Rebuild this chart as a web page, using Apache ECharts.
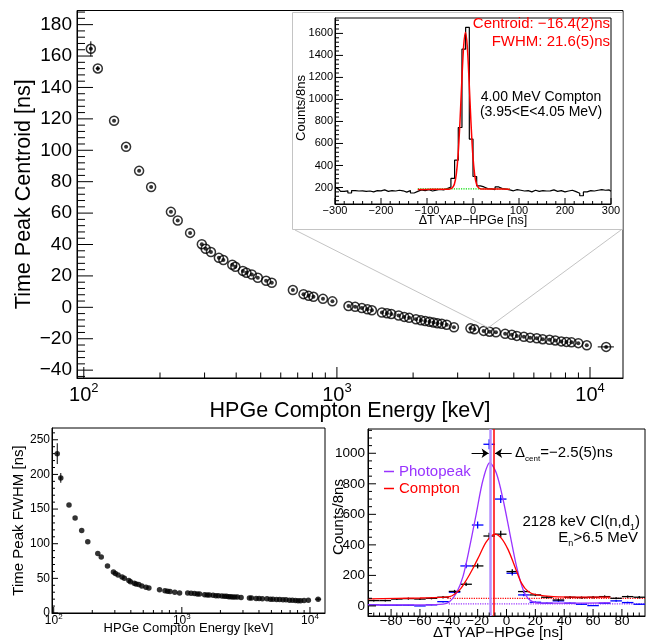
<!DOCTYPE html>
<html>
<head>
<meta charset="utf-8">
<script src="https://cdn.jsdelivr.net/npm/echarts@6/dist/echarts.min.js"></script>
<style>
html, body { margin: 0; padding: 0; background: #fff; }
#chart { width: 646px; height: 643px; }
</style>
</head>
<body>
<div id="chart"></div>
<script>
// HPGe Compton energies [keV], shared by the centroid and FWHM panels
const energies = [106.6, 113.6, 131.7, 146.9, 165.4, 184.5, 220.9, 235, 263, 292.6, 303, 318, 341.7, 356, 386, 397, 425, 439, 461, 487, 525, 553, 670, 738, 773, 808, 881, 960,
  1111, 1181, 1255, 1320, 1375, 1506, 1577, 1640, 1753, 1845, 1930, 2053, 2148, 2233, 2322, 2407, 2496, 2596, 2715, 2900,
  3370, 3494, 3800, 4010, 4250, 4620, 4910, 5140, 5480, 5800, 6160, 6500, 6920, 7290, 7700, 8070, 8450, 8990,
  9710, 11580]
// time peak centroid [ns]
const centroids = [164.6, 152.1, 118.8, 102.2, 86.9, 76.6, 60.8, 55.3, 47.4, 40.2, 37.3, 35.2, 31.5, 30.1, 27.1, 25.8, 23.2, 22.0, 20.9, 18.8, 16.9, 15.6, 11.0, 8.4, 7.3, 6.7, 5.4, 3.8,
  0.8, 0.3, -0.5, -1.3, -1.9, -3.3, -3.8, -4.3, -5.2, -6.1, -6.7, -7.6, -8.3, -8.7, -9.2, -9.7, -10.2, -10.5, -11.1, -12.7,
  -13.4, -14.0, -15.0, -15.5, -15.9, -16.9, -17.5, -18.2, -18.8, -19.3, -19.7, -20.3, -20.7, -21.1, -21.7, -22.0, -22.3, -22.8,
  -24.2, -25.2]
// time peak FWHM [ns]
const fwhms = [230, 195, 156, 137, 119, 103, 86, 81, 68, 59, 57, 55, 52, 50, 47, 45, 43, 42, 41, 39, 37, 36, 33.5, 32, 31.5, 31, 30, 29,
  28.7, 28.5, 28, 27.5, 27.5, 26.5, 26, 26, 25.5, 25, 25, 24.5, 24, 24, 23.5, 23.5, 23, 23, 23, 22.5,
  21.5, 21.5, 21, 21, 20.5, 20.5, 20, 20, 19.5, 19.5, 19, 19, 18.5, 18.5, 18, 17.5, 17.5, 18,
  18.5, 20]
// visible error bars: [E, y, dE, dy]
const centroidErr = [[106.6, 164.6, 1.5, 4.8], [113.6, 152.1, 2, 1.5], [11580, -25.2, 850, 0.6]]
const fwhmErr = [[106.6, 230, 1.5, 15], [113.6, 195, 1.5, 7], [11580, 20, 650, 2]]

// inset: 4.00 MeV Compton time spectrum, 8 ns bins starting at -300
const insetCounts = [200, 185, 165, 170, 150, 172, 168, 170, 165, 168, 160, 172, 170, 178, 165, 172, 168, 175, 170, 158,
  172, 150, 165, 178, 172, 180, 168, 176, 182, 178, 190, 205, 282, 448, 745, 1457, 1655, 640, 300, 215,
  205, 190, 188, 180, 205, 190, 185, 178, 170, 180, 175, 168, 172, 160, 175, 165, 172, 168, 170, 178,
  165, 172, 160, 168, 175, 162, 148, 125, 160, 172, 168, 175, 180, 175, 178, 165]
const insetFitX = [-120, -90, -60, -50.4, -44.4, -40.4, -36.4, -32.4, -28.4, -24.4, -20.4, -16.4, -12.4, -8.4, -4.4, -0.4, 3.6, 7.6, 11.6, 17.6, 50, 80]
const insetFitY = [182, 183, 184, 186, 199, 231, 317, 496, 790, 1158, 1480, 1610, 1480, 1158, 790, 496, 317, 231, 199, 186, 186, 185]
const insetBgX = [-120, 80]
const insetBgY = [188, 186]

// bottom right: 2128 keV Cl(n,d1), 8 ns bins starting at -92
const photoCounts = [7, 5, 5, 5, 0, 7, 28, 90, 262, 530, 1059, 700, 214, 72, 24, 18, 33, 18, 11, 2, 18, 33, 22, 11]
const photoErr = [3, 2, 2, 2, 1, 3, 5, 9, 16, 23, 33, 26, 15, 8, 5, 4, 6, 4, 3, 2, 4, 6, 5, 3]
const comptonCounts = [35, 35, 45, 48, 45, 50, 57, 95, 142, 262, 458, 470, 225, 94, 72, 57, 39, 57, 55, 57, 61, 50, 61, 57]
const comptonErr = [6, 6, 7, 7, 7, 7, 8, 10, 12, 16, 21, 22, 15, 10, 8, 8, 6, 8, 7, 8, 8, 7, 8, 8]
const photoFitX = [-96, -60, -44, -39.5, -34.8, -30.2, -25.5, -20.9, -16.3, -11.6, -7, -2.3, 2.3, 7, 11.6, 16.2, 23.2, 40, 72]
const photoFitY = [6, 7, 12, 28, 83, 192, 388, 607, 825, 938, 869, 694, 476, 257, 105, 39, 18, 18, 22]
const comptonFitX = [-96, -60, -39.5, -32.5, -27.8, -23.2, -18.6, -13.9, -8.1, -3.5, 1.2, 5.8, 10.4, 15, 20.9, 32.5, 72]
const comptonFitY = [46, 52, 61, 105, 170, 247, 334, 421, 470, 443, 367, 257, 149, 94, 72, 61, 57]
const photoCentroid = -11.4
const comptonCentroid = -8.9

// tick labels
const decades = [100, 1000, 10000]
const logMinor = [200, 300, 400, 500, 600, 700, 800, 900, 2000, 3000, 4000, 5000, 6000, 7000, 8000, 9000]
const mainYTicks = [-40, -20, 0, 20, 40, 60, 80, 100, 120, 140, 160, 180]
const insetXTicks = [-300, -200, -100, 0, 100, 200, 300]
const insetYTicks = [200, 400, 600, 800, 1000, 1200, 1400, 1600]
const fwhmYTicks = [0, 50, 100, 150, 200, 250]
const brYTicks = [0, 200, 400, 600, 800, 1000]
const brXTicks = [-80, -60, -40, -20, 0, 20, 40, 60, 80]

// axis ranges
const mainX = [94, 13500], mainY = [-45, 189]
const insetX = [-300, 300], insetY = [50, 1740]
const fwhmX = [97, 13100], fwhmY = [0, 267]
const brX = [-96, 96], brY = [-66, 1159]

const FONT = '"Liberation Sans", Arial, Helvetica, sans-serif'
const PURPLE = '#9933ff'

function range(a, b, step) {
  const out = []
  for (let v = a; v <= b + 1e-9; v += step) out.push(Math.round(v * 1000) / 1000)
  return out
}
function without(list, major) {
  return list.filter(v => major.indexOf(v) < 0)
}
const minus = v => String(v).replace('-', '\u2212')
const pow10 = v => '{b|10}{s|' + Math.round(Math.log10(v)) + '}'
function richPow(size, lh) {
  return {
    b: { fontFamily: FONT, fontSize: size, lineHeight: lh, color: '#000' },
    s: { fontFamily: FONT, fontSize: Math.round(size * 0.65), color: '#000', verticalAlign: 'top' }
  }
}

const mainPoints = energies.map((e, i) => [e, centroids[i]])
const fwhmPoints = energies.map((e, i) => [e, fwhms[i]])
const insetHist = insetCounts.map((c, i) => [-300 + 8 * i, c])
const insetFit = insetFitX.map((x, i) => [x, insetFitY[i]])
const insetBg = insetBgX.map((x, i) => [x, insetBgY[i]])
const photoData = photoCounts.map((c, i) => [-92 + 8 * i, c, 4, photoErr[i]])
const comptonData = comptonCounts.map((c, i) => [-92 + 8 * i, c, 4, comptonErr[i]])
const photoFit = photoFitX.map((x, i) => [x, photoFitY[i]])
const comptonFit = comptonFitX.map((x, i) => [x, comptonFitY[i]])

// crosses for the error bars
function errorBars(color, width) {
  return function (params, api) {
    const x = api.value(0), y = api.value(1), dx = api.value(2), dy = api.value(3)
    const l = api.coord([x - dx, y]), r = api.coord([x + dx, y])
    const b = api.coord([x, y - dy]), t = api.coord([x, y + dy])
    const style = { stroke: color, lineWidth: width }
    return {
      type: 'group',
      children: [
        { type: 'line', shape: { x1: l[0], y1: l[1], x2: r[0], y2: r[1] }, style },
        { type: 'line', shape: { x1: b[0], y1: b[1], x2: t[0], y2: t[1] }, style }
      ]
    }
  }
}

// ROOT-style ticks pointing into the frame from the bottom (dir 'x') or left (dir 'y') edge
function ticks(xi, yi, dir, values, edge, length) {
  return {
    type: 'custom', xAxisIndex: xi, yAxisIndex: yi, silent: true, z: 6,
    data: values.map(v => dir === 'x' ? [v, edge] : [edge, v]),
    renderItem: function (params, api) {
      const p = api.coord([api.value(0), api.value(1)])
      const x2 = dir === 'x' ? p[0] : p[0] + length
      const y2 = dir === 'x' ? p[1] - length : p[1]
      return {
        type: 'group',
        children: [{ type: 'line', shape: { x1: p[0], y1: p[1], x2: x2, y2: y2 }, style: { stroke: '#000', lineWidth: 1 } }]
      }
    }
  }
}

function frame(extra) {
  return Object.assign({
    show: true, borderColor: '#000', borderWidth: 1, backgroundColor: 'transparent',
    containLabel: false, outerBoundsMode: 'none'
  }, extra)
}
function axis(extra) {
  return Object.assign({
    axisLine: { show: true, onZero: false, lineStyle: { color: '#000', width: 1 } },
    axisTick: { show: false },
    splitLine: { show: false },
    nameMoveOverlap: false
  }, extra)
}
function label(size, margin, values, formatter) {
  return { customValues: values, margin, fontFamily: FONT, fontSize: size, color: '#000', formatter: formatter || minus }
}
function title(size, padding) {
  return { fontFamily: FONT, fontSize: size, color: '#000', padding: padding || 0 }
}

const chart = echarts.init(document.getElementById('chart'))

const option = {
  animation: false,
  backgroundColor: '#fff',
  textStyle: { fontFamily: FONT },
  grid: [
    frame({ left: 77, top: 10.5, width: 546, height: 367.5 }),
    frame({ left: 335, top: 18, width: 276, height: 186 }),
    frame({ left: 52, top: 428, width: 273, height: 185 }),
    frame({ left: 368, top: 429, width: 277, height: 187 })
  ],
  xAxis: [
    axis({
      type: 'log', gridIndex: 0, position: 'bottom', min: mainX[0], max: mainX[1],
      axisLabel: { customValues: decades, margin: 4, formatter: pow10, rich: richPow(20, 26) },
      name: 'HPGe Compton Energy [keV]', nameLocation: 'middle', nameGap: 22, nameTextStyle: title(21.5)
    }),
    axis({
      type: 'value', gridIndex: 1, position: 'bottom', min: insetX[0], max: insetX[1],
      axisLabel: label(11, 1.5, insetXTicks),
      name: '\u0394T YAP\u2212HPGe [ns]', nameLocation: 'middle', nameGap: 10, nameTextStyle: title(12.5)
    }),
    axis({
      type: 'log', gridIndex: 2, position: 'bottom', min: fwhmX[0], max: fwhmX[1],
      axisLabel: { customValues: decades, margin: 0, formatter: pow10, rich: richPow(12, 16) },
      name: 'HPGe Compton Energy [keV]', nameLocation: 'middle', nameGap: 9, nameTextStyle: title(13)
    }),
    axis({
      type: 'value', gridIndex: 3, position: 'bottom', min: brX[0], max: brX[1],
      axisLabel: label(13.5, -2, brXTicks),
      name: '\u0394T YAP\u2212HPGe [ns]', nameLocation: 'middle', nameGap: 9, nameTextStyle: title(15, [0, 17, 0, 0])
    })
  ],
  yAxis: [
    axis({
      type: 'value', gridIndex: 0, position: 'left', min: mainY[0], max: mainY[1],
      axisLabel: label(19, 5, mainYTicks),
      name: 'Time Peak Centroid [ns]', nameLocation: 'middle', nameGap: 42, nameTextStyle: title(21.5)
    }),
    axis({
      type: 'value', gridIndex: 1, position: 'left', min: insetY[0], max: insetY[1],
      axisLabel: label(11, 2, insetYTicks),
      name: 'Counts/8ns', nameLocation: 'middle', nameGap: 27, nameTextStyle: title(13, [0, 0, 0, 6])
    }),
    axis({
      type: 'value', gridIndex: 2, position: 'left', min: fwhmY[0], max: fwhmY[1],
      axisLabel: label(12, 2, fwhmYTicks),
      name: 'Time Peak FWHM [ns]', nameLocation: 'middle', nameGap: 26, nameTextStyle: title(15)
    }),
    axis({
      type: 'value', gridIndex: 3, position: 'left', min: brY[0], max: brY[1],
      axisLabel: label(13.5, 3, brYTicks),
      name: 'Counts/8ns', nameLocation: 'middle', nameGap: 22, nameTextStyle: title(15, [0, 0, 0, 11])
    })
  ],
  legend: {
    left: 384, top: 464, orient: 'vertical', padding: 0, itemGap: 2,
    itemWidth: 10, itemHeight: 1.5, icon: 'rect', selectedMode: false,
    textStyle: { fontFamily: FONT, fontSize: 15 },
    data: [
      { name: 'Photopeak', textStyle: { color: PURPLE } },
      { name: 'Compton', textStyle: { color: '#ff0000' } }
    ]
  },
  graphic: [
    { type: 'rect', silent: true, shape: { x: 292.5, y: 12.5, width: 330, height: 217 }, style: { fill: 'none', stroke: '#c4c4c4', lineWidth: 1 } },
    { type: 'text', x: 610, y: 24, style: { text: 'Centroid: \u221216.4(2)ns', fill: '#ff0000', font: '15px ' + FONT, align: 'right', verticalAlign: 'middle' } },
    { type: 'text', x: 610, y: 41.7, style: { text: 'FWHM: 21.6(5)ns', fill: '#ff0000', font: '15px ' + FONT, align: 'right', verticalAlign: 'middle' } },
    { type: 'text', x: 541, y: 96.7, style: { text: '4.00 MeV Compton', fill: '#000', font: '14px ' + FONT, align: 'center', verticalAlign: 'middle' } },
    { type: 'text', x: 541, y: 111.7, style: { text: '(3.95<E<4.05 MeV)', fill: '#000', font: '14px ' + FONT, align: 'center', verticalAlign: 'middle' } },
    {
      type: 'text', x: 640, y: 521.7,
      style: {
        text: '2128 keV Cl(n,d{s|1})', fill: '#000', font: '15px ' + FONT, lineHeight: 20, align: 'right', verticalAlign: 'middle',
        rich: { s: { fontFamily: FONT, fontSize: 9, verticalAlign: 'bottom' } }
      }
    },
    {
      type: 'text', x: 638, y: 538,
      style: {
        text: 'E{s|n}>6.5 MeV', fill: '#000', font: '15px ' + FONT, lineHeight: 20, align: 'right', verticalAlign: 'middle',
        rich: { s: { fontFamily: FONT, fontSize: 9, verticalAlign: 'bottom' } }
      }
    },
    {
      type: 'text', x: 515, y: 453,
      style: {
        text: '\u0394{s|cent}=\u22122.5(5)ns', fill: '#000', font: '15px ' + FONT, lineHeight: 20, align: 'left', verticalAlign: 'middle',
        rich: { s: { fontFamily: FONT, fontSize: 8, verticalAlign: 'bottom' } }
      }
    }
  ],
  series: [
    // main panel: open circles with a centre dot
    {
      type: 'scatter', xAxisIndex: 0, yAxisIndex: 0, data: mainPoints, symbol: 'circle', symbolSize: 9,
      itemStyle: { color: 'rgba(0,0,0,0)', borderColor: '#000', borderWidth: 1.5 }, silent: true, z: 3,
      markLine: {
        silent: true, symbol: ['none', 'none'], label: { show: false },
        lineStyle: { color: '#c4c4c4', width: 1, type: 'solid' },
        data: [
          [{ x: 295, y: 230 }, { coord: [3963, -13] }],
          [{ x: 621, y: 230 }, { coord: [3963, -13] }]
        ]
      }
    },
    { type: 'scatter', xAxisIndex: 0, yAxisIndex: 0, data: mainPoints, symbolSize: 4, itemStyle: { color: '#000' }, silent: true, z: 4 },
    { type: 'custom', xAxisIndex: 0, yAxisIndex: 0, data: centroidErr, renderItem: errorBars('#000', 1), silent: true, z: 4 },
    ticks(0, 0, 'x', decades, mainY[0], 11),
    ticks(0, 0, 'x', logMinor, mainY[0], 5.5),
    ticks(0, 0, 'y', mainYTicks, mainX[0], 16),
    ticks(0, 0, 'y', without(range(-44, 188, 4), mainYTicks), mainX[0], 8),
    // inset spectrum
    { type: 'line', xAxisIndex: 1, yAxisIndex: 1, data: insetHist, step: 'middle', symbol: 'none', lineStyle: { color: '#000', width: 1.2 }, silent: true, z: 3 },
    { type: 'line', xAxisIndex: 1, yAxisIndex: 1, data: insetBg, symbol: 'none', lineStyle: { color: '#00dd00', width: 1.2, type: 'dotted' }, silent: true, z: 4 },
    { type: 'line', xAxisIndex: 1, yAxisIndex: 1, data: insetFit, symbol: 'none', smooth: 0.3, lineStyle: { color: '#ff0000', width: 1.5 }, silent: true, z: 5 },
    ticks(1, 1, 'x', insetXTicks, insetY[0], 6),
    ticks(1, 1, 'x', without(range(-280, 280, 20), insetXTicks), insetY[0], 3),
    ticks(1, 1, 'y', insetYTicks, insetX[0], 8),
    ticks(1, 1, 'y', without(range(80, 1720, 40), insetYTicks), insetX[0], 4),
    // FWHM panel
    { type: 'scatter', xAxisIndex: 2, yAxisIndex: 2, data: fwhmPoints, symbolSize: 5.5, itemStyle: { color: '#000' }, silent: true },
    { type: 'custom', xAxisIndex: 2, yAxisIndex: 2, data: fwhmErr, renderItem: errorBars('#000', 1), silent: true },
    ticks(2, 2, 'x', decades, fwhmY[0], 6),
    ticks(2, 2, 'x', logMinor, fwhmY[0], 3),
    ticks(2, 2, 'y', fwhmYTicks, fwhmX[0], 6),
    ticks(2, 2, 'y', without(range(10, 260, 10), fwhmYTicks), fwhmX[0], 3),
    // Cl(n,d1) spectra
    { type: 'custom', xAxisIndex: 3, yAxisIndex: 3, data: photoData, renderItem: errorBars('#0000ff', 1.3), silent: true, z: 3 },
    { type: 'custom', xAxisIndex: 3, yAxisIndex: 3, data: comptonData, renderItem: errorBars('#000', 1.3), silent: true, z: 3 },
    {
      type: 'line', name: 'Photopeak', xAxisIndex: 3, yAxisIndex: 3, data: photoFit, symbol: 'none', smooth: 0.3,
      lineStyle: { color: PURPLE, width: 1.3 }, itemStyle: { color: PURPLE }, silent: true, z: 4,
      markLine: {
        silent: true, symbol: ['none', 'none'], label: { show: false },
        data: [{ xAxis: photoCentroid, lineStyle: { color: '#b490ff', width: 2.5, type: 'solid' } }]
      }
    },
    {
      type: 'line', name: 'Compton', xAxisIndex: 3, yAxisIndex: 3, data: comptonFit, symbol: 'none', smooth: 0.3,
      lineStyle: { color: '#ff0000', width: 1.3 }, itemStyle: { color: '#ff0000' }, silent: true, z: 4,
      markLine: {
        silent: true, symbol: ['none', 'none'], label: { show: false },
        data: [
          { xAxis: comptonCentroid, lineStyle: { color: '#ff0000', width: 1.5, type: 'solid' } },
          [{ coord: [-24.2, 1000], symbol: 'none', lineStyle: { color: '#000', width: 1, type: 'solid' } }, { coord: [photoCentroid - 1, 1000], symbol: 'arrow', symbolSize: 7 }],
          [{ coord: [3.6, 1000], symbol: 'none', lineStyle: { color: '#000', width: 1, type: 'solid' } }, { coord: [comptonCentroid + 1, 1000], symbol: 'arrow', symbolSize: 7 }]
        ]
      }
    },
    { type: 'line', xAxisIndex: 3, yAxisIndex: 3, data: [[-40, 14], [96, 14]], symbol: 'none', lineStyle: { color: PURPLE, width: 1.2, type: 'dotted' }, silent: true, z: 2 },
    { type: 'line', xAxisIndex: 3, yAxisIndex: 3, data: [[-41, 50], [96, 50]], symbol: 'none', lineStyle: { color: '#ff0000', width: 1.2, type: 'dotted' }, silent: true, z: 2 },
    ticks(3, 3, 'x', brXTicks, brY[0], 7),
    ticks(3, 3, 'x', without(range(-92, 92, 4), brXTicks), brY[0], 3.5),
    ticks(3, 3, 'y', brYTicks, brX[0], 8),
    ticks(3, 3, 'y', without(range(-50, 1150, 50), brYTicks), brX[0], 4)
  ]
}

chart.setOption(option)
</script>
</body>
</html>
